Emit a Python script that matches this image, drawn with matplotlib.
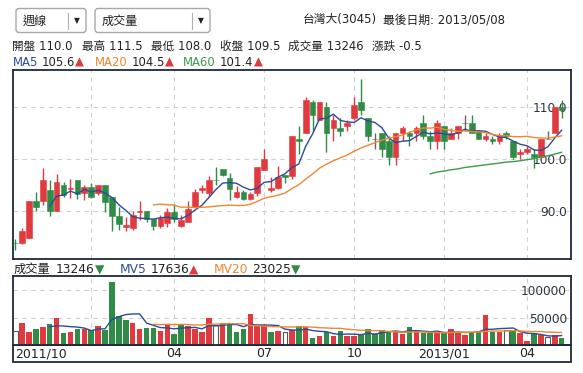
import numpy as np
import pandas as pd
import matplotlib
matplotlib.use('Agg')
import matplotlib.pyplot as plt
from matplotlib.patches import Rectangle, FancyBboxPatch

plt.rcParams['font.family'] = ['DejaVu Sans', 'Noto Sans CJK TC']

# weekly candles, 台灣大(3045), 2011/10 .. 2013/05/08
opens = [83.9, 83.9, 84.9, 91.9, 91.9, 94.1, 90.1, 95.1, 94.3, 96.0,
         93.6, 94.6, 93.5, 95.1, 92.8, 89.1, 86.9, 86.7, 89.9, 90.0,
         88.5, 87.2, 87.7, 89.8, 87.1, 87.9, 90.8, 94.1, 93.5, 96.1,
         98.1, 96.4, 92.8, 93.7, 92.4, 93.5, 98.0, 94.1, 94.4, 97.0,
         96.7, 104.0, 105.0, 111.0, 107.5, 110.0, 106.0, 106.0, 106.5, 108.0,
         111.0, 108.0, 104.0, 105.0, 103.5, 100.5, 105.0, 105.0, 105.0, 107.0,
         104.5, 103.5, 106.5, 104.0, 105.0, 107.0, 107.0, 105.5, 104.0, 104.0,
         103.5, 105.0, 103.5, 101.0, 101.5, 101.0, 100.5, 104.0, 105.0, 110.0]
highs = [84.6, 86.7, 92.0, 93.8, 98.3, 96.0, 97.2, 95.6, 96.2, 96.0,
         95.0, 95.4, 95.1, 95.1, 92.8, 90.9, 88.8, 90.1, 91.9, 90.1,
         88.6, 89.3, 90.6, 91.4, 89.3, 91.9, 94.2, 95.1, 96.7, 98.5,
         98.1, 97.3, 94.8, 94.1, 93.8, 98.5, 102.0, 96.5, 98.7, 97.0,
         104.5, 106.5, 112.0, 111.5, 111.0, 111.0, 108.5, 108.0, 107.5, 112.0,
         115.5, 108.0, 105.0, 105.0, 104.5, 105.0, 106.5, 105.5, 106.5, 108.5,
         105.5, 107.5, 106.5, 106.0, 106.5, 108.5, 108.5, 105.5, 105.0, 104.5,
         105.0, 105.5, 103.5, 102.0, 102.5, 102.0, 104.0, 105.5, 110.0, 111.5]
lows = [82.6, 83.7, 84.8, 90.1, 91.2, 89.1, 90.0, 92.8, 92.5, 92.3,
        92.2, 92.5, 93.1, 89.9, 86.2, 86.4, 86.2, 86.3, 88.3, 88.0,
        86.4, 86.7, 86.9, 88.0, 87.0, 87.9, 90.8, 93.5, 92.8, 95.1,
        96.8, 92.2, 92.6, 92.2, 92.2, 92.9, 97.9, 93.8, 94.3, 95.4,
        96.3, 101.0, 105.0, 105.5, 107.5, 101.5, 103.5, 104.5, 105.5, 107.5,
        108.5, 103.5, 102.0, 100.5, 99.0, 99.0, 103.5, 102.5, 103.5, 104.0,
        102.0, 102.0, 102.0, 104.0, 104.0, 105.5, 105.0, 104.0, 103.5, 103.0,
        103.0, 104.0, 100.0, 100.0, 101.0, 98.4, 100.5, 104.0, 105.0, 108.0]
closes = [83.8, 86.2, 91.9, 90.8, 96.0, 90.1, 95.7, 93.1, 94.5, 93.3,
          94.6, 92.8, 95.1, 91.7, 89.0, 87.6, 87.4, 89.2, 90.1, 88.6,
          87.1, 88.7, 89.9, 88.6, 88.4, 90.5, 93.8, 94.4, 96.0, 96.0,
          96.9, 94.3, 93.7, 92.3, 93.3, 98.5, 100.0, 94.5, 96.5, 96.5,
          104.5, 103.5, 111.5, 108.5, 111.0, 105.0, 107.5, 105.5, 107.0, 110.5,
          109.5, 104.5, 104.0, 102.0, 100.5, 105.0, 106.0, 104.5, 106.0, 104.5,
          103.5, 107.0, 103.5, 105.0, 106.5, 107.0, 105.0, 104.0, 104.5, 103.5,
          104.5, 104.5, 100.5, 101.5, 102.0, 100.5, 104.0, 104.0, 110.0, 109.5]
volumes = [25600, 40600, 24400, 30400, 33400, 38800, 49700, 22600, 24400, 29800,
           29200, 27400, 35200, 28600, 114700, 53300, 46700, 40600, 29200, 31600,
           32200, 26800, 37600, 20800, 38200, 35800, 29800, 24400, 49700, 36400,
           40600, 36400, 25000, 30400, 56900, 35200, 37000, 23200, 26800, 24400,
           27400, 35100, 33400, 13500, 17200, 24400, 17200, 26200, 17200, 16000,
           19600, 29800, 19600, 28000, 26200, 26200, 19600, 33400, 27400, 21400,
           21400, 24500, 21400, 29600, 23000, 18500, 24500, 25000, 54000, 23200,
           24500, 27000, 28000, 21400, 8100, 22400, 18400, 15600, 18500, 13246]

# first week of each quarter on the index axis
grid_pos = [11, 23, 36, 49, 62, 74]
xtick_pos = [0, 23, 36, 49, 62, 74]
xtick_labels = ['2011/10', '04', '07', '10', '2013/01', '04']

RED = '#e0393e'
GREEN = '#2f8b46'
GRAY = '#666666'
BLUE = '#2b4c9b'
ORANGE = '#f0862e'
MGREEN = '#3c9a4c'
FRAME = '#1d2a3a'
GRID = '#cfcfcf'
TXT = '#222222'

o = np.array(opens)
h = np.array(highs)
l = np.array(lows)
c = np.array(closes)
v = np.array(volumes)
x = np.arange(len(c))

fig = plt.figure(figsize=(5.83, 3.73), dpi=100)
W, H = 583.0, 373.0
ax = fig.add_axes([12.7 / W, (H - 259) / H, 558.3 / W, 189 / H])
axv = fig.add_axes([12.7 / W, (H - 345.3) / H, 558.3 / W, 69 / H])

# ---- candles
cols = np.where(c > o, RED, np.where(c < o, GREEN, GRAY))
ax.vlines(x, l, h, colors=cols, lw=1, zorder=3)
body = np.where(c == o, 0.001, c - o)
ax.bar(x, body, bottom=o, width=0.82, color=cols, edgecolor=cols, lw=0.4, zorder=4)

for n, col in [(5, BLUE), (20, ORANGE), (60, MGREEN)]:
    ma = pd.Series(c).rolling(n).mean()
    ma[:n] = np.nan
    ax.plot(x, ma, color=col, lw=1, zorder=5)

ax.set_xlim(-0.35, 80.35)
ax.set_ylim(80.8, 117.2)
ax.set_xticks([])
ax.set_yticks([90, 100, 110], ['90.0', '100.0', '110.0'])
ax.yaxis.tick_right()
ax.tick_params(axis='y', length=0, pad=-3, labelsize=8.7, labelcolor='#2a3340')
plt.setp(ax.get_yticklabels(), ha='right')
ax.grid(axis='y', color=GRID, ls=(0, (4, 4)), lw=0.8)
for g in grid_pos:
    ax.axvline(g, color=GRID, ls=(0, (4, 4)), lw=0.8, zorder=0)

# ---- volume, coloured by change against last week's close
chg = np.round(np.diff(c, prepend=c[0]), 2)
up = chg > 0
dn = chg < 0
flat = chg == 0
axv.bar(x[up], v[up], width=0.8, color=RED, lw=0, zorder=3)
axv.bar(x[dn], v[dn], width=0.8, color=GREEN, lw=0, zorder=3)
axv.bar(x[flat], v[flat], width=0.7, color='white', edgecolor='#555555', lw=0.8, zorder=3)
for n, col in [(5, BLUE), (20, ORANGE)]:
    mv = pd.Series(v, dtype=float).rolling(n).mean()
    mv[:n] = np.nan
    axv.plot(x, mv, color=col, lw=1, zorder=5)

axv.set_xlim(-0.35, 80.35)
axv.set_ylim(0, 125000)
axv.set_yticks([50000, 100000], ['50000', '100000'])
axv.yaxis.tick_right()
axv.tick_params(axis='y', length=0, pad=-3, labelsize=8.7, labelcolor='#2a3340')
plt.setp(axv.get_yticklabels(), ha='right')
axv.set_xticks(xtick_pos, xtick_labels)
axv.tick_params(axis='x', length=0, pad=1.5, labelsize=9, labelcolor=TXT)
plt.setp(axv.get_xticklabels()[0], ha='left')
axv.grid(axis='y', color=GRID, ls=(0, (4, 4)), lw=0.8)
for g in grid_pos:
    axv.axvline(g, color=GRID, ls=(0, (4, 4)), lw=0.8, zorder=0)

for a in (ax, axv):
    for s in a.spines.values():
        s.set_color(FRAME)
        s.set_linewidth(1.3)

# ---- header / overlay in pixel coords
ov = fig.add_axes([0, 0, 1, 1], zorder=10)
ov.set_xlim(0, W)
ov.set_ylim(H, 0)
ov.axis('off')
renderer = fig.canvas.get_renderer()


def chain(x0, y, parts, size):
    # draw coloured pieces one after another on one baseline
    xx = x0
    for s, col, gap in parts:
        t = ov.text(xx, y, s, fontsize=size, color=col, va='baseline')
        xx += t.get_window_extent(renderer).width + gap


# tick label band under the volume panel
ov.add_patch(Rectangle((12.7, 345.3), 558.3, 16.7, fill=False, ec=FRAME, lw=1.3))

for bx, bw, dv, label in [(16, 70, 68.3, '週線'), (95, 115, 191.7, '成交量')]:
    ov.add_patch(FancyBboxPatch((bx, 8.5), bw, 24, boxstyle='round,pad=0,rounding_size=3',
                                ec='#a8a8a8', fc='white', lw=1))
    ov.plot([dv, dv], [12.5, 28.5], color='#b0b0b0', lw=0.8)
    ov.text(bx + 7, 24.5, label, fontsize=8.7, color=TXT, va='baseline')
    ov.text((dv + bx + bw) / 2, 20.5, '▼', fontsize=5.5, color=TXT, ha='center', va='center')

ov.text(377, 23.3, '台灣大(3045)', fontsize=8.5, color=TXT, ha='right', va='baseline')
ov.text(505, 23.3, '最後日期: 2013/05/08', fontsize=8.5, color=TXT, ha='right', va='baseline')

row2 = [(11.7, '開盤 110.0'), (81.7, '最高 111.5'), (150.7, '最低 108.0'),
        (220, '收盤 109.5'), (288.3, '成交量 13246'), (371.7, '漲跌 -0.5')]
for tx, s in row2:
    ov.text(tx, 50.3, s, fontsize=8.4, color=TXT, va='baseline')

chain(12.7, 66, [('MA5', BLUE, 4), ('105.6', TXT, 0), ('▲', RED, 0)], 8.4)
chain(95, 66, [('MA20', ORANGE, 4), ('104.5', TXT, 0), ('▲', RED, 0)], 8.4)
chain(183.3, 66, [('MA60', MGREEN, 4), ('101.4', TXT, 0), ('▲', RED, 0)], 8.4)

chain(14, 273.3, [('成交量', TXT, 5), ('13246', TXT, 0), ('▼', GREEN, 0)], 8.8)
chain(119.3, 273.3, [('MV5', BLUE, 4), ('17636', TXT, 0), ('▲', RED, 0)], 8.8)
chain(213.3, 273.3, [('MV20', ORANGE, 4), ('23025', TXT, 0), ('▼', GREEN, 0)], 8.8)

fig.savefig('out.png', dpi=100)
